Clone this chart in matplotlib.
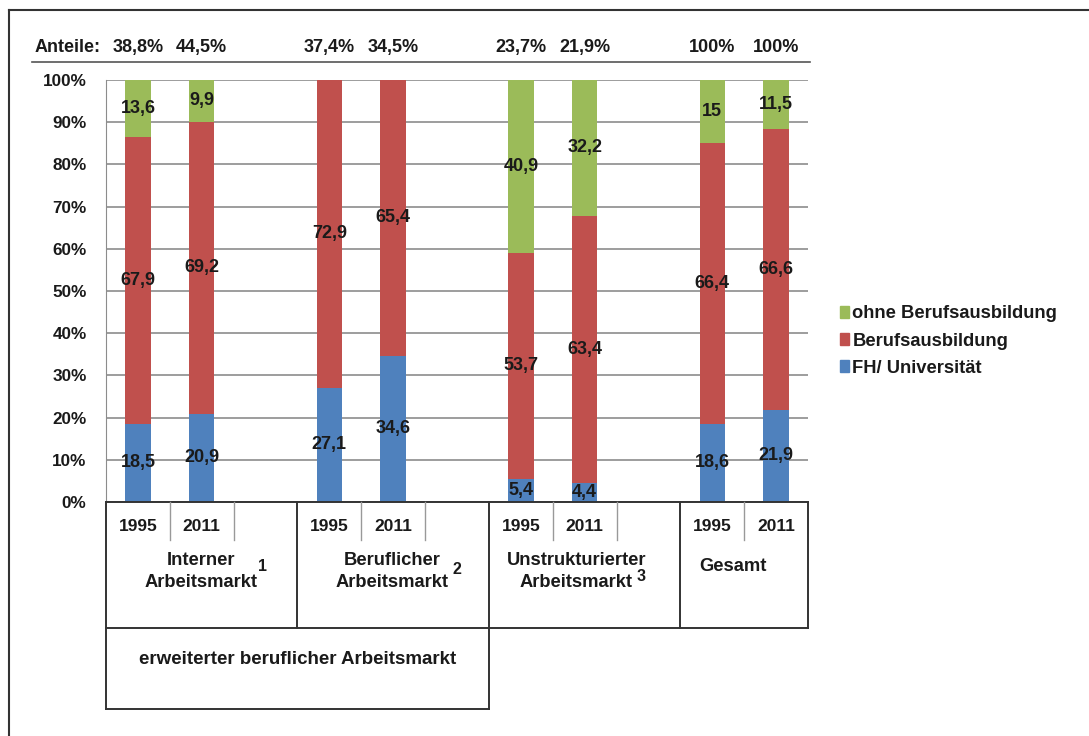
import numpy as np
import matplotlib.pyplot as plt
from matplotlib.lines import Line2D
from matplotlib.patches import Patch

plt.rcParams['font.family'] = ['Liberation Sans', 'DejaVu Sans']
plt.rcParams['font.weight'] = 'bold'

# data
years = ['1995', '2011']
groups = [['Interner', 'Arbeitsmarkt'], ['Beruflicher', 'Arbeitsmarkt'],
          ['Unstrukturierter', 'Arbeitsmarkt'], ['Gesamt']]
footnotes = ['1', '2', '3']
anteile = ['38,8%', '44,5%', '37,4%', '34,5%', '23,7%', '21,9%', '100%', '100%']
fh = [18.5, 20.9, 27.1, 34.6, 5.4, 4.4, 18.6, 21.9]
beruf = [67.9, 69.2, 72.9, 65.4, 53.7, 63.4, 66.4, 66.6]
ohne = [13.6, 9.9, 0, 0, 40.9, 32.2, 15, 11.5]
series = ['FH/ Universität', 'Berufsausbildung', 'ohne Berufsausbildung']
colors = ['#4F81BD', '#C0504D', '#9BBB59']

W, H = 1089, 736
TXT = '#1a1a1a'
fig = plt.figure(figsize=(W / 100, H / 100), dpi=100)
ax = fig.add_axes([106 / W, (H - 502) / H, (808 - 106) / W, (502 - 80) / H])

# slot positions: 3 slots per group, last group only 2
pos = np.array([0, 1, 3, 4, 6, 7, 9, 10])
bw = 0.4
bottom = np.zeros(len(pos))
for vals, col in zip([fh, beruf, ohne], colors):
    vals = np.array(vals)
    ax.bar(pos, vals, bw, bottom=bottom, color=col, zorder=3)
    for x, b, v in zip(pos, bottom, vals):
        if v > 0:
            lab = ('%g' % v).replace('.', ',')
            ax.text(x, b + v / 2, lab, ha='center', va='center', fontsize=13,
                    color=TXT, zorder=4)
    bottom += vals

ax.set_xlim(-0.5, 10.5)
ax.set_ylim(0, 100)
ax.set_yticks(np.arange(0, 101, 10))
ax.set_yticklabels(['%d%%' % t for t in range(0, 101, 10)], fontsize=12.3,
                   color=TXT)
ax.tick_params(axis='y', length=0, pad=14)
ax.set_xticks([])
ax.yaxis.grid(True, color='#8c8c8c', lw=1.2, zorder=0)
for s in ['top', 'right', 'bottom']:
    ax.spines[s].set_visible(False)
ax.spines['left'].set_color('#8c8c8c')

# Anteile row
for x, a in zip(pos, anteile):
    ax.text(x, 107.8, a, ha='center', va='center', fontsize=13, color=TXT,
            clip_on=False)
fig.text(35 / W, 1 - 47 / H, 'Anteile:', ha='left', va='center', fontsize=13,
         color=TXT)
fig.add_artist(Line2D([32 / W, 810 / W], [1 - 62 / H, 1 - 62 / H], color='#555555',
                      lw=1.2))

# table below the axis
y1, y2, y3 = -9, -29.9, -49
def seg(xs, ys, c='#333333', lw=1.4):
    ax.plot(xs, ys, color=c, lw=lw, clip_on=False, zorder=5)

seg([-0.5, 10.5], [0, 0])
seg([-0.5, 10.5], [y2, y2])
seg([-0.5, 5.5], [y3, y3])
seg([-0.5, -0.5], [0, y3])
seg([5.5, 5.5], [y2, y3])
for xb in [2.5, 5.5, 8.5, 10.5]:
    seg([xb, xb], [0, y2])
for xs in [0.5, 1.5, 3.5, 4.5, 6.5, 7.5, 9.5]:
    seg([xs, xs], [0, y1], c='#999999', lw=1.0)

for i, x in enumerate(pos):
    ax.text(x, -5.9, years[i % 2], ha='center', va='center', fontsize=12.5,
            color=TXT, clip_on=False)

gx = [0.99, 3.98, 6.87, 9.33]
for g, lines in zip(gx, groups):
    ys = [-13.8, -19.0] if len(lines) == 2 else [-15.4]
    for yy, line in zip(ys, lines):
        ax.text(g, yy, line, ha='center', va='center', fontsize=13.2,
                color=TXT, clip_on=False)
for fx, fy, fn in zip([1.95, 5.0, 7.88], [-15.4, -15.9, -17.6], footnotes):
    ax.text(fx, fy, fn, fontsize=11.5, ha='center', va='center', color=TXT,
            clip_on=False)
ax.text(2.5, -37.4, 'erweiterter beruflicher Arbeitsmarkt', ha='center', va='center',
        fontsize=13.5, color=TXT, clip_on=False)

# legend
handles = [Patch(color=c, label=s) for s, c in zip(series, colors)][::-1]
fig.legend(handles=handles, loc='center left', bbox_to_anchor=(823 / W, 1 - 341 / H),
           frameon=False, fontsize=13.2, handlelength=0.5, handleheight=0.6,
           handletextpad=0.2, labelspacing=0.55, labelcolor=TXT)

# outer frame (top and left)
fig.add_artist(Line2D([9 / W, 1], [1 - 10 / H, 1 - 10 / H], color='#333333', lw=1.5))
fig.add_artist(Line2D([9 / W, 9 / W], [0, 1 - 10 / H], color='#333333', lw=1.5))

fig.savefig('out.png', dpi=100)
